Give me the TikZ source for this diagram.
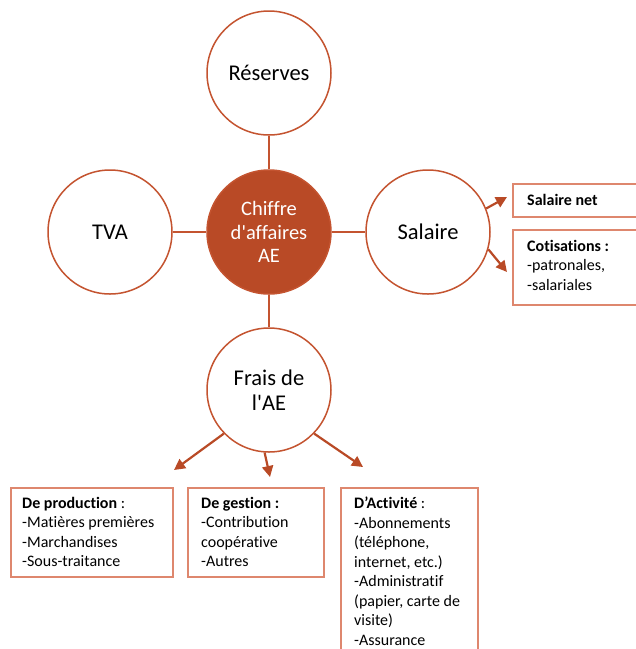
\documentclass[tikz,border=0pt]{standalone}
\usepackage{fontspec}
\setmainfont{Carlito}[Ligatures=NoCommon]
\usetikzlibrary{arrows.meta}
\definecolor{rust}{RGB}{185,74,38}
\definecolor{rline}{RGB}{196,84,48}
\definecolor{bline}{RGB}{222,135,110}
\newcommand{\apo}{\textquotesingle}
\tikzset{
  x=1pt,y=-1pt,
  bubble/.style={circle,draw=rline,line width=1.5pt,fill=white,minimum size=124pt,inner sep=0pt,align=center,font=\fontsize{22.5}{25}\selectfont},
  core/.style={bubble,fill=rust,text=white,font=\fontsize{20.5}{23.5}\selectfont},
  link/.style={draw=rline,line width=1.5pt},
  arr/.style={draw=rust,line width=2.2pt,-{Triangle[length=11pt,width=11pt]}},
  boxline/.style={draw=bline,line width=1.3pt},
  boxtext/.style={anchor=north west,inner sep=0pt,align=left,font=\fontsize{16}{19.5}\selectfont},
}
\begin{document}
\begin{tikzpicture}
\useasboundingbox (0,0) rectangle (636,649);
\clip (0,0) rectangle (636,649);
\fill[white] (0,0) rectangle (636,649);
% circles
\node[core] (ca) at (269,232) {Chiffre\\d\apo affaires\\AE};
\node[bubble] (res) at (269,73) {Réserves};
\node[bubble] (tva) at (110,232) {TVA};
\node[bubble] (sal) at (428,232) {Salaire};
\node[bubble] (frais) at (269,390) {Frais de\\l\apo AE};
\draw[link] (ca) -- (res);
\draw[link] (ca) -- (tva);
\draw[link] (ca) -- (sal);
\draw[link] (ca) -- (frais);
% boxes
\draw[boxline] (513,184) rectangle (660,217);
\draw[boxline] (513,230) rectangle (660,305);
\draw[boxline] (11,488) rectangle (173,577);
\draw[boxline] (188,488) rectangle (324,577);
\draw[boxline] (341,488) rectangle (478,690);
\node[boxtext] (tnet) at (527,194) {\textbf{Salaire net}};
\node[boxtext] (tcot) at (527,240) {\textbf{Cotisations :}\\-patronales,\\-salariales};
\node[boxtext] (tprod) at (22,497) {\textbf{De production} :\\-Matières premières\\-Marchandises\\-Sous-traitance};
\node[boxtext] (tgest) at (201,497) {\textbf{De gestion :}\\-Contribution\\coopérative\\-Autres};
\node[boxtext] (tact) at (354,497) {\textbf{D’Activité} :\\-Abonnements\\(téléphone,\\internet, etc.)\\-Administratif\\(papier, carte de\\visite)\\-Assurance};
% arrows
\coordinate (enet) at (507,197);
\coordinate (ecot) at (507,272);
\coordinate (eprod) at (174,470);
\coordinate (egest) at (270,477);
\coordinate (eact) at (363,467);
\draw[arr] (sal.22) -- (enet);
\draw[arr] (sal.-16) -- (ecot);
\draw[arr] (frais.224) -- (eprod);
\draw[arr] (frais.266) -- (egest);
\draw[arr] (frais.316) -- (eact);
\end{tikzpicture}
\end{document}
